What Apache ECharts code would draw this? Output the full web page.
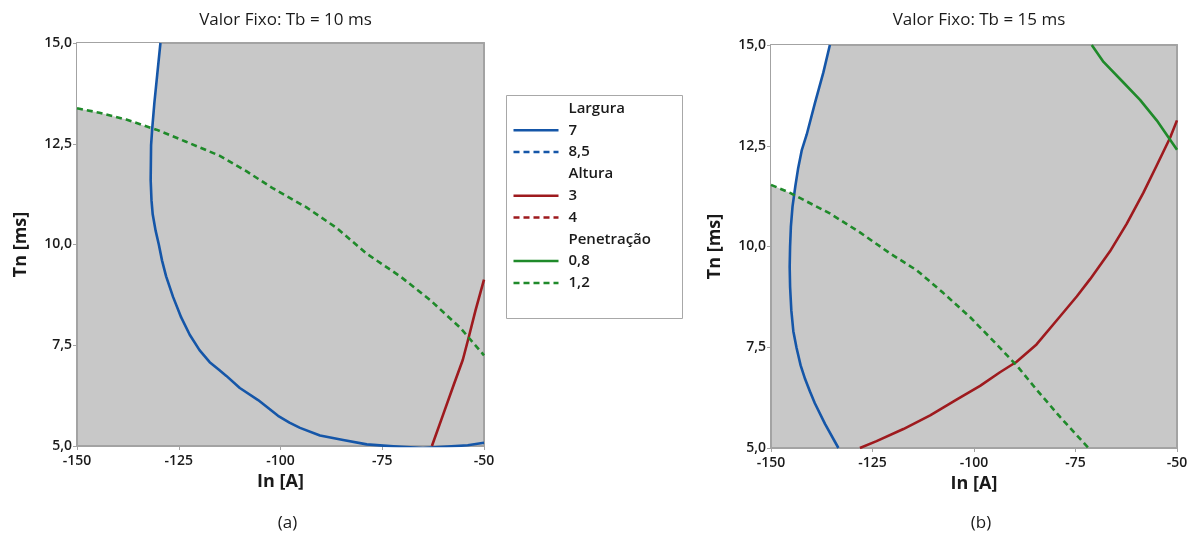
<!DOCTYPE html>
<html>
<head>
<meta charset="utf-8">
<script src="https://cdn.jsdelivr.net/npm/echarts@6/dist/echarts.min.js"></script>
<style>
  html, body { margin: 0; padding: 0; background: #fff; }
  #chart { width: 1194px; height: 541px; }
</style>
</head>
<body>
<div id="chart"></div>
<script>
// Overlaid contour plot: In [A] vs Tn [ms] at two fixed Tb values
const xTicks = [-150, -125, -100, -75, -50];
const yTicks = [5, 7.5, 10, 12.5, 15];
const panelTitles = ['Valor Fixo: Tb = 10 ms', 'Valor Fixo: Tb = 15 ms'];
const panelTags = ['(a)', '(b)'];
const xName = 'In [A]';
const yName = 'Tn [ms]';

// Panel (a): Tb = 10 ms
const largura7_a = [
  [-129.5, 15.0], [-130.3, 14.2], [-131.0, 13.5], [-131.5, 12.9], [-131.8, 12.46],
  [-131.9, 11.6], [-131.7, 11.1], [-131.4, 10.75], [-130.7, 10.35], [-129.9, 10.0],
  [-129.1, 9.6], [-128.1, 9.21], [-126.4, 8.7], [-124.4, 8.19], [-122.3, 7.76],
  [-119.9, 7.38], [-117.4, 7.08], [-115.2, 6.9], [-113.3, 6.74], [-110.0, 6.44],
  [-105.5, 6.14], [-100.6, 5.75], [-97.8, 5.58], [-95.2, 5.45], [-90.3, 5.26],
  [-84.6, 5.15], [-78.8, 5.04], [-72.3, 4.99], [-65.0, 4.95], [-58.0, 4.99],
  [-54.0, 5.02], [-50.0, 5.08]
];
const altura3_a = [
  [-62.8, 5.0], [-60.0, 5.79], [-57.5, 6.5], [-55.2, 7.14], [-53.8, 7.68],
  [-52.1, 8.36], [-50.0, 9.13]
];
const penetracao12_a = [
  [-150.0, 13.38], [-144.5, 13.27], [-137.9, 13.1], [-130.5, 12.85], [-123.2, 12.55],
  [-114.9, 12.2], [-108.4, 11.82], [-101.8, 11.39], [-93.6, 10.92], [-86.2, 10.41],
  [-78.8, 9.77], [-70.6, 9.21], [-63.2, 8.62], [-55.8, 7.93], [-50.0, 7.25]
];

// Panel (b): Tb = 15 ms
const largura7_b = [
  [-135.5, 15.0], [-137.1, 14.32], [-139.2, 13.55], [-141.2, 12.78], [-142.4, 12.4],
  [-143.3, 11.95], [-144.0, 11.5], [-144.7, 10.99], [-145.1, 10.5], [-145.3, 10.0],
  [-145.4, 9.5], [-145.3, 9.0], [-145.0, 8.42], [-144.5, 7.9], [-143.7, 7.48],
  [-142.7, 7.05], [-141.6, 6.71], [-140.4, 6.4], [-139.2, 6.11], [-136.7, 5.6],
  [-133.4, 5.0]
];
const altura3_b = [
  [-128.1, 5.0], [-124.0, 5.17], [-117.4, 5.47], [-110.8, 5.81], [-104.3, 6.2],
  [-98.5, 6.54], [-93.6, 6.88], [-89.5, 7.14], [-84.6, 7.57], [-79.6, 8.17],
  [-74.7, 8.76], [-71.4, 9.19], [-66.5, 9.88], [-62.4, 10.56], [-58.3, 11.33],
  [-55.0, 12.01], [-51.7, 12.7], [-50.0, 13.13]
];
const penetracao08_b = [
  [-71.0, 15.0], [-68.1, 14.58], [-63.2, 14.07], [-59.1, 13.64], [-55.0, 13.13],
  [-50.0, 12.4]
];
const penetracao12_b = [
  [-150.0, 11.53], [-145.3, 11.33], [-135.5, 10.82], [-128.1, 10.35], [-120.7, 9.83],
  [-114.1, 9.41], [-107.6, 8.85], [-101.0, 8.25], [-94.4, 7.57], [-89.5, 7.05],
  [-84.6, 6.45], [-78.8, 5.77], [-71.8, 5.0]
];

// Feasible (white) corner: left of the Largura contour, above the Penetração 1,2 contour
const feasibleCut = [
  { blue: largura7_a, green: penetracao12_a, xCut: -131.6, yCut: 12.88 },
  { blue: largura7_b, green: penetracao12_b, xCut: -144.3, yCut: 11.3 }
];

const COLORS = { blue: '#1556a8', red: '#9e1a1e', green: '#1f8a2a' };

const legendRows = [
  { header: 'Largura' },
  { label: '7', color: COLORS.blue, dashed: false },
  { label: '8,5', color: COLORS.blue, dashed: true },
  { header: 'Altura' },
  { label: '3', color: COLORS.red, dashed: false },
  { label: '4', color: COLORS.red, dashed: true },
  { header: 'Penetração' },
  { label: '0,8', color: COLORS.green, dashed: false },
  { label: '1,2', color: COLORS.green, dashed: true }
];

const FONT = '"Open Sans", "Noto Sans", sans-serif';
const grids = [
  { left: 77, top: 43, width: 407, height: 403 },
  { left: 771, top: 45, width: 406, height: 403 }
];

function feasiblePolygon(cut) {
  const pts = [[-150, 15]];
  cut.blue.forEach(p => { if (p[1] >= cut.yCut) pts.push(p); });
  pts.push([cut.xCut, cut.yCut]);
  cut.green.filter(p => p[0] <= cut.xCut).reverse().forEach(p => pts.push(p));
  return pts;
}

const fmtY = v => v.toFixed(1).replace('.', ',');

const axisGrey = '#a3a3a3';
const xAxes = [], yAxes = [];
grids.forEach((g, i) => {
  xAxes.push({
    gridIndex: i, type: 'value', min: xTicks[0], max: xTicks[xTicks.length - 1], interval: 25,
    name: xName, nameLocation: 'middle', nameGap: 22,
    nameTextStyle: { fontFamily: FONT, fontSize: 18, fontWeight: 'bold', color: '#1a1a1a' },
    axisLine: { show: true, onZero: false, lineStyle: { color: axisGrey, width: 2 } },
    axisTick: { show: true, length: 4, lineStyle: { color: axisGrey } },
    axisLabel: { fontFamily: FONT, fontSize: 14, fontWeight: 600, color: '#1a1a1a', margin: 8 },
    splitLine: { show: false }
  });
  xAxes.push({
    gridIndex: i, type: 'value', position: 'top', min: -150, max: -50,
    axisLine: { show: true, onZero: false, lineStyle: { color: axisGrey, width: 2 } },
    axisTick: { show: false }, axisLabel: { show: false }, splitLine: { show: false }
  });
  yAxes.push({
    gridIndex: i, type: 'value', min: yTicks[0], max: yTicks[yTicks.length - 1], interval: 2.5,
    name: yName, nameLocation: 'middle', nameGap: 47, nameRotate: 90,
    nameTextStyle: { fontFamily: FONT, fontSize: 18, fontWeight: 'bold', color: '#1a1a1a' },
    axisLine: { show: true, onZero: false, lineStyle: { color: axisGrey, width: 2 } },
    axisTick: { show: true, length: 4, lineStyle: { color: axisGrey } },
    axisLabel: { fontFamily: FONT, fontSize: 14, fontWeight: 600, color: '#1a1a1a', margin: 5, formatter: fmtY },
    splitLine: { show: false }
  });
  yAxes.push({
    gridIndex: i, type: 'value', position: 'right', min: 5, max: 15,
    axisLine: { show: true, onZero: false, lineStyle: { color: axisGrey, width: 2 } },
    axisTick: { show: false }, axisLabel: { show: false }, splitLine: { show: false }
  });
});

function contour(data, panel, color, dashed) {
  return {
    type: 'line', xAxisIndex: panel * 2, yAxisIndex: panel * 2, data: data,
    showSymbol: false, smooth: false, clip: true, z: 3,
    lineStyle: { color: color, width: 2.6, type: dashed ? [6, 4] : 'solid', join: 'round' },
    silent: true
  };
}

function whiteRegion(panel) {
  const poly = feasiblePolygon(feasibleCut[panel]);
  return {
    type: 'custom', xAxisIndex: panel * 2, yAxisIndex: panel * 2, data: [0], z: 1, silent: true,
    clip: true,
    renderItem: (params, api) => ({
      type: 'polygon',
      shape: { points: poly.map(p => api.coord(p)) },
      style: { fill: '#ffffff' }
    })
  };
}

const series = [
  whiteRegion(0), whiteRegion(1),
  contour(largura7_a, 0, COLORS.blue, false),
  contour(altura3_a, 0, COLORS.red, false),
  contour(penetracao12_a, 0, COLORS.green, true),
  contour(largura7_b, 1, COLORS.blue, false),
  contour(altura3_b, 1, COLORS.red, false),
  contour(penetracao08_b, 1, COLORS.green, false),
  contour(penetracao12_b, 1, COLORS.green, true)
];

// Legend box drawn as graphics
const legendX = 506, legendY = 95, rowH = 21.8;
const legendChildren = [{
  type: 'rect', shape: { x: 0, y: 0, width: 176, height: 223 },
  style: { fill: '#fff', stroke: '#a8a8a8', lineWidth: 1 }
}];
legendRows.forEach((r, k) => {
  const cy = 13 + k * rowH;
  const textStyle = { fontFamily: FONT, fontSize: 15, fontWeight: 600, fill: '#1a1a1a', verticalAlign: 'middle' };
  if (r.header) {
    legendChildren.push({ type: 'text', x: 62, y: cy, style: Object.assign({ text: r.header }, textStyle) });
  } else {
    legendChildren.push({ type: 'line', shape: { x1: 7, y1: cy, x2: 52, y2: cy }, style: { stroke: r.color, lineWidth: 2.5, lineDash: r.dashed ? [6, 4] : null } });
    legendChildren.push({ type: 'text', x: 62, y: cy, style: Object.assign({ text: r.label }, textStyle) });
  }
});

const titles = [];
grids.forEach((g, i) => {
  titles.push({ text: panelTitles[i], left: g.left + g.width / 2, top: 7, textAlign: 'center',
    textStyle: { fontFamily: FONT, fontSize: 17, fontWeight: 'normal', color: '#1a1a1a' } });
  titles.push({ text: panelTags[i], left: g.left + g.width / 2 + 2, top: 510, textAlign: 'center',
    textStyle: { fontFamily: FONT, fontSize: 17, fontWeight: 'normal', color: '#1a1a1a' } });
});

const chart = echarts.init(document.getElementById('chart'), null, { renderer: 'canvas' });
chart.setOption({
  animation: false,
  backgroundColor: '#ffffff',
  title: titles,
  grid: grids.map(g => Object.assign({ show: true, backgroundColor: '#c8c8c8', borderWidth: 0 }, g)),
  xAxis: xAxes,
  yAxis: yAxes,
  series: series,
  graphic: [{ type: 'group', left: legendX, top: legendY, children: legendChildren }]
});
</script>
</body>
</html>
